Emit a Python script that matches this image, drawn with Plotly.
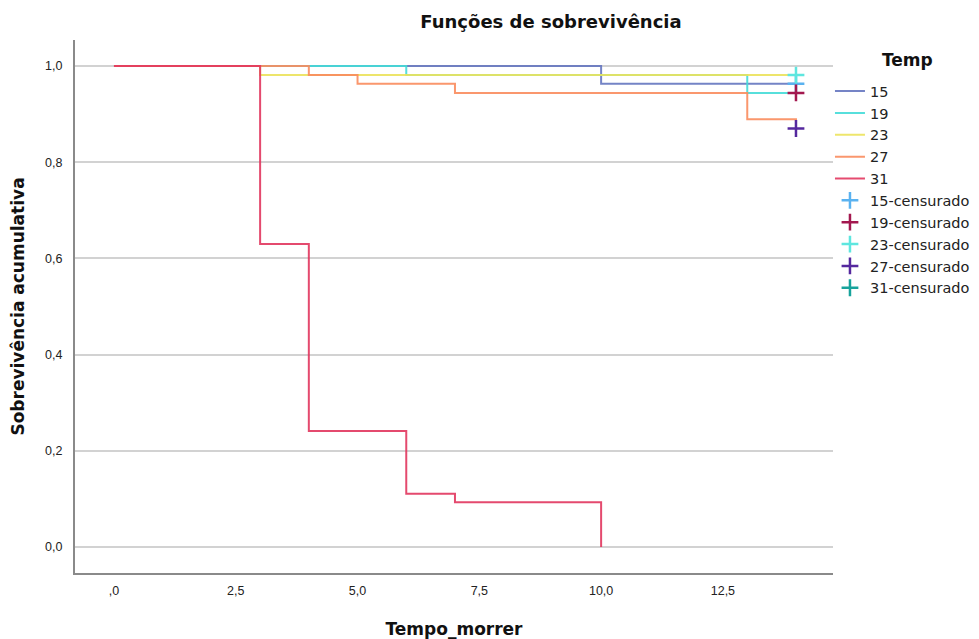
import plotly.graph_objects as go

# Survival step data (time, cumulative survival) per temperature group
t15 = [0, 10, 14]
s15 = [1.0, 0.963, 0.963]
t19 = [0, 6, 13, 14]
s19 = [1.0, 0.981, 0.944, 0.944]
t23 = [0, 3, 14]
s23 = [1.0, 0.981, 0.981]
t27 = [0, 4, 5, 7, 13, 14]
s27 = [1.0, 0.981, 0.963, 0.944, 0.889, 0.870]
t31 = [0, 3, 4, 6, 7, 10]
s31 = [1.0, 0.630, 0.241, 0.111, 0.093, 0.0]

# Censored observations
c15_t, c15_s = [14], [0.963]
c19_t, c19_s = [14], [0.944]
c23_t, c23_s = [14], [0.981]
c27_t, c27_s = [14], [0.870]
c31_t, c31_s = [None], [None]

x_tickvals = [0, 2.5, 5, 7.5, 10, 12.5]
x_ticktext = [",0", "2,5", "5,0", "7,5", "10,0", "12,5"]
y_tickvals = [0, 0.2, 0.4, 0.6, 0.8, 1.0]
y_ticktext = ["0,0", "0,2", "0,4", "0,6", "0,8", "1,0"]

groups = [
    ("15", t15, s15, "#6677c0"),
    ("19", t19, s19, "#45dcd8"),
    ("23", t23, s23, "#ece35c"),
    ("27", t27, s27, "#fa8c5e"),
    ("31", t31, s31, "#e2375f"),
]
censored = [
    ("15-censurado", c15_t, c15_s, "#5ab2f0"),
    ("19-censurado", c19_t, c19_s, "#a3184f"),
    ("23-censurado", c23_t, c23_s, "#5ee6df"),
    ("27-censurado", c27_t, c27_s, "#55289e"),
    ("31-censurado", c31_t, c31_s, "#17a39c"),
]

fig = go.Figure()
for name, t, s, col in groups:
    fig.add_trace(go.Scatter(x=t, y=s, mode="lines", name=name,
                             line=dict(color=col, width=2, shape="hv"),
                             opacity=0.9))
for name, t, s, col in censored:
    fig.add_trace(go.Scatter(x=t, y=s, mode="markers", name=name,
                             marker=dict(symbol="cross-thin", size=12,
                                         line=dict(color=col, width=2.5), color=col)))

# the page body adds an 8px offset, so figure pixels = viewport pixels - 8
W, H = 979, 639
tick_font = "Liberation Sans, Arial, sans-serif"
text_font = "DejaVu Sans, Liberation Sans, sans-serif"
fig.update_layout(
    width=W, height=H,
    paper_bgcolor="white", plot_bgcolor="white",
    margin=dict(l=67, r=154, t=32, b=74, autoexpand=False),
    font=dict(family=tick_font, size=12, color="#222"),
    title=dict(text="<b>Funções de sobrevivência</b>", x=543 / W, xanchor="center",
               xref="container", yref="container", y=1 - 14 / H, yanchor="middle",
               font=dict(family=text_font, size=18, color="#111")),
    xaxis=dict(range=[-0.8, 14.76], tickvals=x_tickvals, ticktext=x_ticktext,
               showgrid=False, zeroline=False, showline=True, linecolor="#8a8a8a",
               linewidth=2, ticks="", tickfont=dict(size=12.5, color="#222"),
               ticklabelstandoff=5, automargin=False,
               title=dict(text="<b>Tempo_morrer</b>",
                          font=dict(family=text_font, size=17, color="#111"),
                          standoff=26)),
    yaxis=dict(range=[-0.054, 1.054], tickvals=y_tickvals, ticktext=y_ticktext,
               showgrid=True, gridcolor="#d2d2d2", gridwidth=2, zeroline=False,
               showline=True, linecolor="#8a8a8a", linewidth=2, ticks="",
               tickfont=dict(size=12.5, color="#222"), ticklabelstandoff=8,
               automargin=False,
               title=dict(text="<b>Sobrevivência acumulativa</b>",
                          font=dict(family=text_font, size=17, color="#111"),
                          standoff=22)),
    legend=dict(x=0.996, xanchor="left", y=0.934, yanchor="top",
                font=dict(family=text_font, size=14.5, color="#222"), tracegroupgap=0,
                bgcolor="rgba(0,0,0,0)"),
    annotations=[dict(text="<b>Temp</b>", xref="paper", yref="paper",
                      x=(899 - 67) / 758, y=1 - (52 - 32) / 533, xanchor="center",
                      yanchor="middle", showarrow=False,
                      font=dict(family=text_font, size=17, color="#111"))],
    showlegend=True,
)

fig.write_html("out.html")
